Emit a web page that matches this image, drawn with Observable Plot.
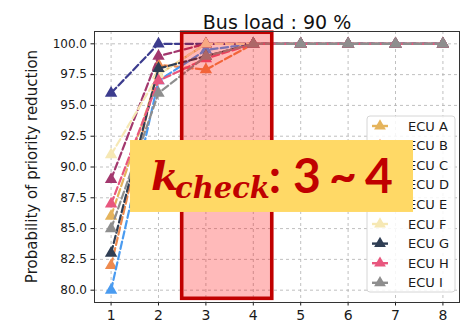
<!DOCTYPE html>
<html>
<head>
<meta charset="utf-8">
<script src="https://cdn.jsdelivr.net/npm/d3@7"></script>
<script src="https://cdn.jsdelivr.net/npm/@observablehq/plot@0.6"></script>
<style>
  body { margin: 0; background: #fff; }
  #chart svg { display: block; }
</style>
</head>
<body>
<div id="chart"></div>
<script>
// k values tested on the x axis
const steps = [1, 2, 3, 4, 5, 6, 7, 8];

// Probability of priority reduction (%) per ECU at each k
const ecuA = [86, 97.5, 100, 100, 100, 100, 100, 100];
const ecuB = [82, 98.3, 97.9, 100, 100, 100, 100, 100];
const ecuC = [80, 97, 99.5, 100, 100, 100, 100, 100];
const ecuD = [96, 100, 100, 100, 100, 100, 100, 100];
const ecuE = [89, 99, 100, 100, 100, 100, 100, 100];
const ecuF = [91, 97.5, 100, 100, 100, 100, 100, 100];
const ecuG = [83, 98, 99, 100, 100, 100, 100, 100];
const ecuH = [87, 97, 98.8, 100, 100, 100, 100, 100];
const ecuI = [85, 96, 99, 100, 100, 100, 100, 100];

const seriesNames = ["ECU A", "ECU B", "ECU C", "ECU D", "ECU E", "ECU F", "ECU G", "ECU H", "ECU I"];
const seriesValues = [ecuA, ecuB, ecuC, ecuD, ecuE, ecuF, ecuG, ecuH, ecuI];
const seriesColors = ["#e5b45c", "#ee8a4f", "#4a9bf0", "#3c3c8e", "#a3386e", "#f6e8b4", "#2f3e54", "#e8577e", "#8e8e8e"];

const yTicks = [80, 82.5, 85, 87.5, 90, 92.5, 95, 97.5, 100];

// highlighted k range and its label
const kRange = { from: 2.5, to: 4.4 };
const kLabel = { lo: 3, hi: 4 };

const title = "Bus load : 90 %";
const yLabel = "Probability of priority reduction";

const rows = seriesNames.flatMap((name, i) =>
  steps.map((k, j) => ({ series: name, k, value: seriesValues[i][j] }))
);

const colorOf = Object.fromEntries(seriesNames.map((n, i) => [n, seriesColors[i]]));

const perSeriesMarks = seriesNames.flatMap(name => {
  const d = rows.filter(r => r.series === name);
  return [
    Plot.line(d, { x: "k", y: "value", stroke: colorOf[name], strokeWidth: 2.2, strokeDasharray: "7.4,3.2" }),
    Plot.dot(d, { x: "k", y: "value", symbol: "triangle", r: 4.6, fill: colorOf[name], stroke: "none" })
  ];
});

const plot = Plot.plot({
  width: 461,
  height: 329,
  marginLeft: 94,
  marginRight: 2,
  marginTop: 31,
  marginBottom: 27,
  style: { fontFamily: "DejaVu Sans", fontSize: "12px", color: "#1a1a1a", background: "#fff" },
  x: { domain: [0.65, 8.35] },
  y: { domain: [79, 101] },
  marks: [
    Plot.gridX(steps, { stroke: "#b0b0b0", strokeOpacity: 1, strokeWidth: 0.8, strokeDasharray: "3,3" }),
    Plot.gridY(yTicks, { stroke: "#b0b0b0", strokeOpacity: 1, strokeWidth: 0.8, strokeDasharray: "3,3" }),
    Plot.axisX(steps, { tickSize: 3.5, tickPadding: 4, fontSize: 14, label: null, tickFormat: d => String(d) }),
    Plot.axisY(yTicks, { tickSize: 3.5, tickPadding: 4, fontSize: 12, label: null, tickFormat: d => d.toFixed(1) }),
    ...perSeriesMarks,
    Plot.rect([kRange], {
      x1: "from", x2: "to", y1: () => 79.3, y2: () => 100.9,
      fill: "#ff0000", fillOpacity: 0.27, stroke: "#c00000", strokeWidth: 3.6
    }),
    Plot.frame({ stroke: "#333", strokeWidth: 1 }),
    Plot.text([title], { frameAnchor: "top", dy: -16, fontSize: 19, fill: "#111" })
  ]
});

document.getElementById("chart").appendChild(plot);

const svg = d3.select(plot);
const xs = plot.scale("x").apply;
const ys = plot.scale("y").apply;

// rotated y-axis title, centred on the frame
svg.append("text")
  .attr("transform", `translate(37,${(ys(79) + ys(101)) / 2}) rotate(-90)`)
  .attr("text-anchor", "middle")
  .attr("font-family", "DejaVu Sans").attr("font-size", 15)
  .attr("fill", "#1a1a1a")
  .text(yLabel);

// legend in the upper right of the frame
const lg = svg.append("g").attr("font-family", "DejaVu Sans").attr("font-size", 13).attr("text-anchor", "start");
const lgLeft = 367, lgTop = 116, rowH = 19.6;
lg.append("rect")
  .attr("x", lgLeft).attr("y", lgTop)
  .attr("width", 88).attr("height", 176)
  .attr("rx", 3)
  .attr("fill", "#fff").attr("fill-opacity", 0.85)
  .attr("stroke", "#d6d6d6");
seriesNames.forEach((name, i) => {
  const cy = lgTop + 10 + i * rowH;
  lg.append("line")
    .attr("x1", lgLeft + 5).attr("x2", lgLeft + 21)
    .attr("y1", cy).attr("y2", cy)
    .attr("stroke", seriesColors[i]).attr("stroke-width", 2.4);
  lg.append("path")
    .attr("d", d3.symbol(d3.symbolTriangle, 60)())
    .attr("transform", `translate(${lgLeft + 13},${cy})`)
    .attr("fill", seriesColors[i]);
  lg.append("text")
    .attr("x", lgLeft + 41).attr("y", cy)
    .attr("dy", "0.35em")
    .attr("fill", "#1a1a1a")
    .text(name);
});

// callout box naming the chosen k range
const boxX1 = xs(1.41), boxX2 = xs(7.38);
const boxY1 = ys(92.15), boxY2 = ys(86.31);
const ann = svg.append("g").attr("text-anchor", "start");
ann.append("rect")
  .attr("x", boxX1).attr("y", boxY1)
  .attr("width", boxX2 - boxX1).attr("height", boxY2 - boxY1)
  .attr("fill", "#ffd966");
const red = "#c00000";
ann.append("text")
  .attr("x", boxX1 + 21).attr("y", boxY1 + 50)
  .attr("font-family", "DejaVu Serif").attr("font-style", "italic").attr("font-weight", "bold")
  .attr("font-size", 40).attr("fill", red)
  .text("k");
ann.append("text")
  .attr("x", boxX1 + 45).attr("y", boxY1 + 58)
  .attr("font-family", "DejaVu Serif").attr("font-style", "italic").attr("font-weight", "bold")
  .attr("font-size", 29).attr("fill", red)
  .text("check");
const big = [[":", 145], [String(kLabel.lo), 177], ["~", 213], [String(kLabel.hi), 249]];
big.forEach(([t, cx]) => {
  ann.append("text")
    .attr("x", boxX1 + cx).attr("y", boxY1 + 53)
    .attr("text-anchor", "middle")
    .attr("font-family", "Lato").attr("font-weight", "bold")
    .attr("font-size", 48).attr("fill", red)
    .text(t);
});
</script>
</body>
</html>
